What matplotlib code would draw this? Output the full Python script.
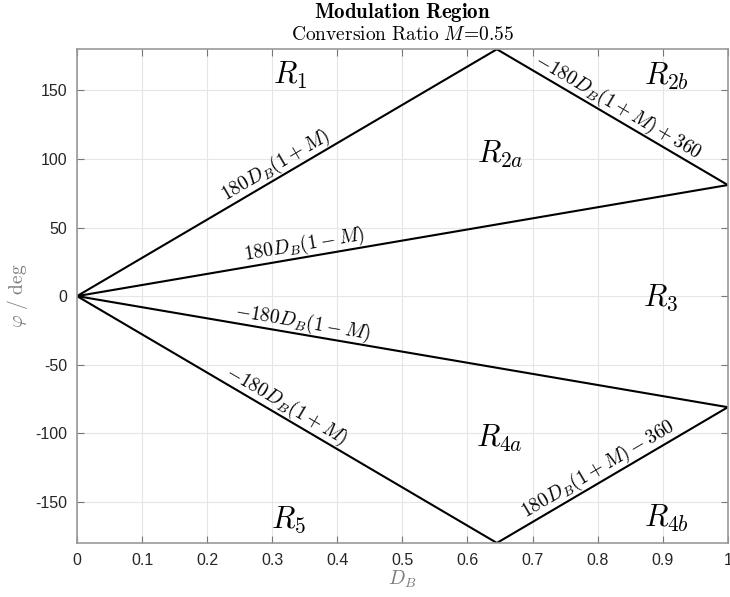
import numpy as np
import matplotlib
matplotlib.use("Agg")
import matplotlib.pyplot as plt

plt.rcParams["mathtext.fontset"] = "cm"
plt.rcParams["font.family"] = ["Liberation Sans", "DejaVu Sans"]
plt.rcParams["axes.unicode_minus"] = False

# conversion ratio and the duty-cycle breakpoints of the boundaries
M = 0.55
d_break = [0.0, 1.0 / (1.0 + M), 1.0]
d_full = [0.0, 1.0]

# region names and where they sit (D_B, phi)
region_names = ["R_1", "R_{2b}", "R_{2a}", "R_3", "R_{4a}", "R_5", "R_{4b}"]
region_x = [0.328, 0.905, 0.65, 0.896, 0.649, 0.325, 0.905]
region_y = [161, 160, 103, -1, -104, -163, -162]

# boundary captions and the D_B they are centred on
caption_text = [r"180D_B(1+M)", r"-180D_B(1+M)+360", r"180D_B(1-M)",
                r"-180D_B(1-M)", r"-180D_B(1+M)", r"180D_B(1+M)-360"]
caption_x = [0.315, 0.822, 0.352, 0.344, 0.312, 0.811]


def upper(d):
    d = np.asarray(d)
    return np.where(d <= 1 / (1 + M), 180 * d * (1 + M), -180 * d * (1 + M) + 360)


def lower(d):
    return -upper(d)


def mid_up(d):
    return 180 * np.asarray(d) * (1 - M)


def mid_dn(d):
    return -mid_up(d)


caption_funcs = [lambda d: 180 * d * (1 + M), lambda d: -180 * d * (1 + M) + 360,
                 mid_up, mid_dn, lambda d: -180 * d * (1 + M),
                 lambda d: 180 * d * (1 + M) - 360]

fig = plt.figure(figsize=(7.30, 5.97), dpi=100)
ax = fig.add_axes([0.1055, 0.0905, 0.8915, 0.827])

grey = "#999999"
ax.plot(d_break, upper(d_break), color="black", lw=1.5)
ax.plot(d_break, lower(d_break), color="black", lw=1.5)
ax.plot(d_full, mid_up(d_full), color="black", lw=1.5)
ax.plot(d_full, mid_dn(d_full), color="black", lw=1.5)

for name, x, y in zip(region_names, region_x, region_y):
    ax.text(x, y, f"${name}$", fontsize=22, ha="center", va="center")

for txt, x, f in zip(caption_text, caption_x, caption_funcs):
    dx = 0.01
    y0 = float(f(x))
    slope = (float(f(x + dx)) - float(f(x - dx))) / (2 * dx)
    ang = np.degrees(np.arctan(slope))
    ax.text(x, y0, f"${txt}$", fontsize=14, ha="center", va="bottom",
            rotation=ang, rotation_mode="anchor", transform_rotates_text=True)

ax.set_xlim(0, 1)
ax.set_ylim(-180, 180)
ax.set_xticks(np.arange(0, 1.01, 0.1))
ax.set_xticklabels(["0", "0.1", "0.2", "0.3", "0.4", "0.5", "0.6", "0.7", "0.8", "0.9", "1"])
ax.set_yticks([-150, -100, -50, 0, 50, 100, 150])
ax.grid(True, color="#e6e6e6", lw=0.8)
ax.set_axisbelow(True)
ax.tick_params(direction="in", length=5, width=0.8, colors="#777777", labelcolor="#262626",
               labelsize=11.5, top=True, right=True, pad=7)
for sp in ax.spines.values():
    sp.set_color(grey)
    sp.set_linewidth(1.2)

ax.set_xlabel(r"$D_B$", fontsize=14, color="#7a7a7a", labelpad=1)
ax.set_ylabel(r"$\varphi\ /\ \mathrm{deg}$", fontsize=14, color="#7a7a7a", labelpad=4)

cx = 0.1055 + 0.8915 / 2
fig.text(cx, 0.979, r"$\mathbf{Modulation\ Region}$", fontsize=15, ha="center", va="center")
fig.text(cx, 0.941, r"$\mathrm{Conversion\ Ratio}\ M\!=\!\mathrm{0.55}$", fontsize=14,
         ha="center", va="center")

fig.savefig("out.png", dpi=100)
